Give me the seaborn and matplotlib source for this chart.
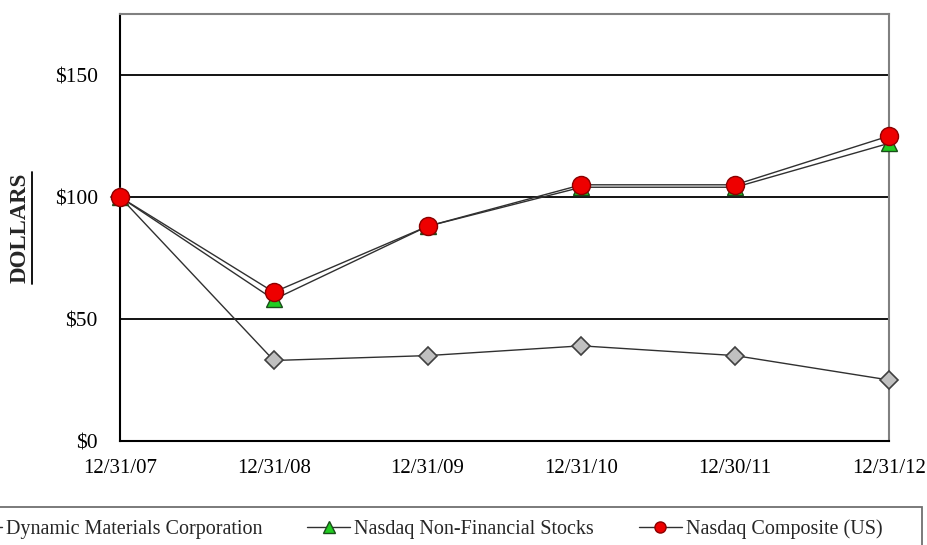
import matplotlib
matplotlib.use("Agg")
import matplotlib.pyplot as plt
import seaborn as sns
import pandas as pd
from matplotlib.lines import Line2D
from matplotlib.patches import Rectangle

dates = ["12/31/07", "12/31/08", "12/31/09", "12/31/10", "12/30/11", "12/31/12"]
dmc = [100, 33, 35, 39, 35, 25]
nonfin = [100, 58, 88, 104, 104, 122]
composite = [100, 61, 88, 105, 105, 125]
series_names = ["Dynamic Materials Corporation", "Nasdaq Non-Financial Stocks", "Nasdaq Composite (US)"]
yticks = [0, 50, 100, 150]
ytick_labels = ["\\$0", "\\$50", "\\$100", "\\$150"]

sns.set_theme(style="white")
plt.rcParams["font.family"] = ["Liberation Serif", "DejaVu Serif"]

W, H = 928, 545
fig = plt.figure(figsize=(W / 100, H / 100), dpi=100)
ax = fig.add_axes([120 / W, 1 - 441 / H, (889 - 120) / W, (441 - 14) / H])

x = list(range(len(dates)))
df_dmc = pd.DataFrame({"x": x, "y": dmc})
df_nf = pd.DataFrame({"x": x, "y": nonfin})
df_c = pd.DataFrame({"x": x, "y": composite})

for v in yticks[1:]:
    ax.axhline(v, color="black", lw=1.3, zorder=1)

line_col = "#303030"
sns.lineplot(data=df_dmc, x="x", y="y", ax=ax, color=line_col, lw=1.0, marker="D",
             markersize=9, markerfacecolor="#c0c0c0", markeredgecolor="#404040",
             markeredgewidth=1.2, errorbar=None, clip_on=False, zorder=3)
sns.lineplot(data=df_nf, x="x", y="y", ax=ax, color=line_col, lw=1.0, marker="^",
             markersize=12, markerfacecolor="#22cc22", markeredgecolor="#1a4d1a",
             markeredgewidth=1.0, errorbar=None, clip_on=False, zorder=4)
sns.lineplot(data=df_c, x="x", y="y", ax=ax, color=line_col, lw=1.0, marker="o",
             markersize=13, markerfacecolor="#ee0000", markeredgecolor="#8b0000",
             markeredgewidth=1.0, errorbar=None, clip_on=False, zorder=5)

ax.set_xlim(0, 5)
ax.set_ylim(0, 175)
ax.set_xticks(x)
ax.set_xticklabels(dates, fontsize=15)
ax.set_yticks(yticks)
ax.set_yticklabels(ytick_labels, fontsize=15.5)
ax.tick_params(axis="y", length=0, pad=16, colors="black")
ax.tick_params(axis="x", direction="in", length=5, width=1, color="#808080", pad=13, labelcolor="black")
ax.set_xlabel("")
ax.set_ylabel("")

for side in ["left", "bottom"]:
    ax.spines[side].set_color("black")
    ax.spines[side].set_linewidth(1.5)
for side in ["top", "right"]:
    ax.spines[side].set_color("#808080")
    ax.spines[side].set_linewidth(1.5)
for s in ax.spines.values():
    s.set_visible(True)
    s.set_zorder(2)

# y-axis title, bold and underlined
fig.text(20 / W, 1 - 228 / H, "DOLLARS", rotation=90, fontsize=16.5, fontweight="bold",
         ha="center", va="center")
fig.add_artist(Line2D([32.5 / W, 32.5 / W], [1 - 284 / H, 1 - 172 / H], color="black", lw=1.3))

# legend box
fig.add_artist(Rectangle((-5 / W, 1 - 570 / H), 927 / W, 63 / H, transform=fig.transFigure,
                         facecolor="white", edgecolor="#707070", lw=1.3, zorder=0))

handles = [
    Line2D([], [], color=line_col, lw=1.0, marker="D", markersize=7, markerfacecolor="#c0c0c0", markeredgecolor="#404040"),
    Line2D([], [], color=line_col, lw=1.0, marker="^", markersize=8, markerfacecolor="#22cc22", markeredgecolor="#1a4d1a"),
    Line2D([], [], color=line_col, lw=1.0, marker="o", markersize=8, markerfacecolor="#ee0000", markeredgecolor="#8b0000"),
]
fig.legend(handles, series_names, loc="center left", bbox_to_anchor=(-41 / W, 1 - 529 / H),
           ncol=3, frameon=False, fontsize=14.5, handlelength=2.15, handletextpad=0.2,
           columnspacing=2.2, borderpad=0, borderaxespad=0)

fig.savefig("out.png", dpi=100)
